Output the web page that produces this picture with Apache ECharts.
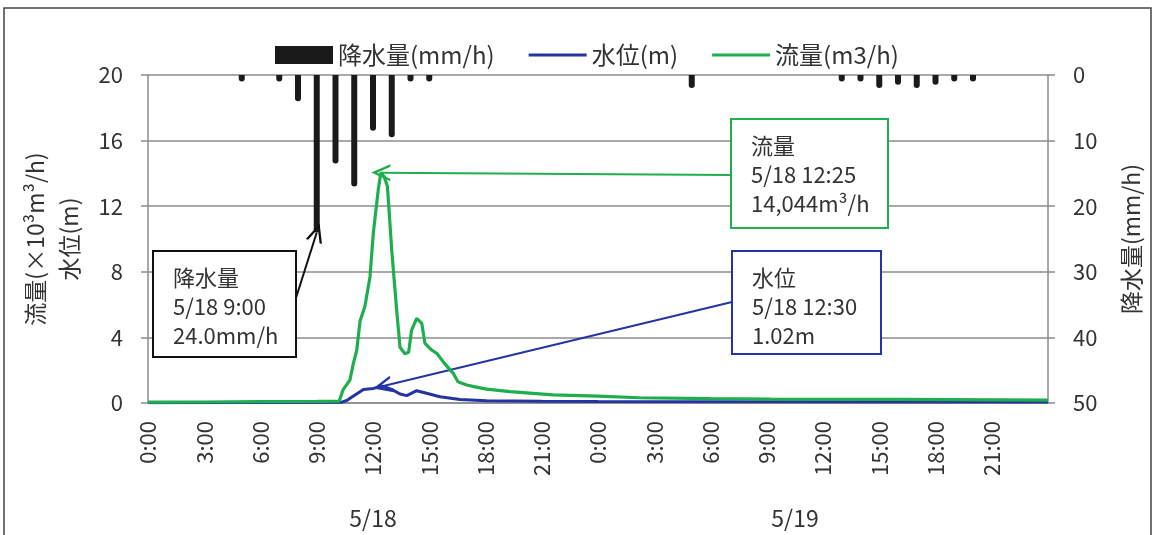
<!DOCTYPE html>
<html>
<head>
<meta charset="utf-8">
<script src="https://cdn.jsdelivr.net/npm/echarts@6/dist/echarts.min.js"></script>
<style>
  html, body { margin: 0; padding: 0; background: #fff; }
  #chart { width: 1153px; height: 535px; }
</style>
</head>
<body>
<div id="chart"></div>
<script>
// Hourly rainfall (hours counted from 5/18 0:00), mm/h
const rainHours  = [5, 7, 8, 9, 10, 11, 12, 13, 14, 15, 29, 37, 38, 39, 40, 41, 42, 43, 44];
const rainValues = [1, 1, 4.0, 24.0, 13.5, 17.0, 8.5, 9.5, 1, 1, 2.0, 1, 1, 2.0, 1.5, 2.0, 1.5, 1, 1];

// Discharge (×10³ m³/h): [hour, value]
const flowPoints = [
  [0, 0.05], [3, 0.06], [6, 0.08], [9, 0.1], [10.2, 0.12], [10.4, 0.8], [10.77, 1.4],
  [10.95, 2.4], [11.13, 3.2], [11.31, 5.0], [11.57, 5.9], [11.84, 7.7], [12.02, 10.4],
  [12.28, 13.0], [12.4167, 14.044], [12.6, 13.8], [12.77, 13.2], [13.0, 9.3], [13.26, 5.7],
  [13.44, 3.4], [13.7, 3.0], [13.9, 3.1], [14.06, 4.45], [14.33, 5.16], [14.6, 4.86],
  [14.77, 3.64], [15.13, 3.23], [15.4, 3.03], [15.8, 2.43], [16.28, 1.81], [16.53, 1.3],
  [17.0, 1.1], [17.44, 0.98], [18.06, 0.85], [19.3, 0.69], [21.6, 0.49], [24, 0.42],
  [26.2, 0.32], [30, 0.27], [33.2, 0.24], [40, 0.22], [48, 0.18]
];

// Water level (m): [hour, value]
const levelPoints = [
  [0, 0.02], [6, 0.03], [10.3, 0.04], [10.6, 0.15], [11.04, 0.49], [11.49, 0.83],
  [12.02, 0.89], [12.5, 1.02], [13.0, 0.83], [13.44, 0.55], [13.8, 0.45], [14.33, 0.75],
  [14.86, 0.59], [15.57, 0.38], [16.64, 0.22], [18.06, 0.14], [21, 0.1], [24, 0.09],
  [36, 0.07], [48, 0.06]
];

// Annotated peaks
const rainPeak  = [9, 24.0];
const flowPeak  = [12.4167, 14.044];
const levelPeak = [12.5, 1.02];

const dayLabels = ['5/18', '5/19'];
const legendNames = ['降水量(mm/h)', '水位(m)', '流量(m3/h)'];

const FONT = "'Noto Sans CJK JP', 'Noto Sans', sans-serif";
const TEXT = '#333';
const GRAY = '#8c8c8c';
const GREEN = '#1fae4e';
const BLUE = '#2434a3';

const rainData = rainHours.map((h, i) => [h, rainValues[i]]);

const chart = echarts.init(document.getElementById('chart'), null, { renderer: 'canvas' });

// Open V arrow head, pointing up in its own frame
const ARROW = 'path://M0,12 L5,0 L10,12 L8.5,12 L5,3.6 L1.5,12 Z';
// Thin legend stroke: tiny corner specks keep the full icon box so the bar stays thin
const LEGEND_LINE = 'path://M0,0 L0.05,0 L0,0.05 Z M0,7.5 L58,7.5 L58,10.5 L0,10.5 Z M58,18 L57.95,18 L58,17.95 Z';

function box(x, y, w, h, color, lines) {
  return {
    type: 'group',
    children: [
      { type: 'rect', shape: { x: x, y: y, width: w, height: h },
        style: { fill: '#fff', stroke: color, lineWidth: 2 }, z: 50 },
      { type: 'text', x: x + 20, y: y + 12, z: 51,
        style: { text: lines.join('\n'), fontSize: 22, lineHeight: 29,
                 fontFamily: FONT, fill: TEXT } }
    ]
  };
}

const option = {
  animation: false,
  backgroundColor: '#fff',
  textStyle: { fontFamily: FONT, color: TEXT },
  grid: { left: 148, right: 105, top: 75, bottom: 132 },
  legend: {
    top: 38, left: 270,
    itemWidth: 58, itemHeight: 18, itemGap: 34,
    textStyle: { fontSize: 24, color: TEXT, fontFamily: FONT },
    data: [
      { name: legendNames[0], icon: 'rect' },
      { name: legendNames[1], icon: LEGEND_LINE },
      { name: legendNames[2], icon: LEGEND_LINE }
    ]
  },
  xAxis: {
    type: 'value', min: 0, max: 48, interval: 3,
    axisLine: { show: true, onZero: false, lineStyle: { color: GRAY, width: 1.5 } },
    axisTick: { show: false },
    splitLine: { show: false },
    axisLabel: {
      rotate: 90, margin: 18, fontSize: 22, color: TEXT, fontFamily: FONT,
      formatter: v => (v >= 48 ? '' : (v % 24) + ':00')
    }
  },
  yAxis: [
    {
      type: 'value', min: 0, max: 20, interval: 4, position: 'left',
      name: '流量(×10³m³/h)\n水位(m)', nameLocation: 'middle', nameRotate: 90, nameGap: 62,
      nameTextStyle: { fontSize: 23, color: TEXT, fontFamily: FONT, lineHeight: 34 },
      axisLine: { show: true, lineStyle: { color: GRAY, width: 1.5 } },
      axisTick: { show: true, inside: false, length: 7, lineStyle: { color: GRAY, width: 1.5 } },
      splitLine: { show: true, lineStyle: { color: GRAY, width: 1.5 } },
      axisLabel: { fontSize: 22, margin: 25, color: TEXT, fontFamily: FONT }
    },
    {
      type: 'value', min: 0, max: 50, interval: 10, inverse: true, position: 'right',
      name: '降水量(mm/h)', nameLocation: 'middle', nameRotate: 90, nameGap: 72,
      nameTextStyle: { fontSize: 23, color: TEXT, fontFamily: FONT },
      axisLine: { show: true, lineStyle: { color: GRAY, width: 1.5 } },
      axisTick: { show: true, inside: false, length: 7, lineStyle: { color: GRAY, width: 1.5 } },
      splitLine: { show: false },
      axisLabel: { fontSize: 22, margin: 25, color: TEXT, fontFamily: FONT }
    }
  ],
  series: [
    {
      name: legendNames[0], type: 'bar', yAxisIndex: 1, data: rainData,
      barWidth: 6, itemStyle: { color: '#1a1a1a', borderRadius: [0, 0, 3, 3] }, z: 3
    },
    {
      name: legendNames[1], type: 'line', yAxisIndex: 0, data: levelPoints,
      showSymbol: false, symbol: 'none', lineStyle: { color: BLUE, width: 3 },
      itemStyle: { color: BLUE }, z: 4
    },
    {
      name: legendNames[2], type: 'line', yAxisIndex: 0, data: flowPoints,
      showSymbol: false, symbol: 'none', lineStyle: { color: GREEN, width: 3.2 },
      itemStyle: { color: GREEN }, z: 5
    }
  ],
  graphic: [
    // outer frame
    { type: 'polyline', shape: { points: [[4, 540], [4, 8], [1151, 8], [1151, 540]] },
      style: { stroke: '#444', lineWidth: 1.5, fill: null }, z: 0 },
    { type: 'text', x: 373, y: 518, style: { text: dayLabels[0], fontSize: 23, fontFamily: FONT,
      fill: TEXT, align: 'center', verticalAlign: 'middle' } },
    { type: 'text', x: 795, y: 518, style: { text: dayLabels[1], fontSize: 23, fontFamily: FONT,
      fill: TEXT, align: 'center', verticalAlign: 'middle' } },
    box(153, 251, 143, 106, '#111', ['降水量', '5/18 9:00', rainPeak[1].toFixed(1) + 'mm/h']),
    box(731, 119, 157, 109, GREEN, ['流量', '5/18 12:25', (flowPeak[1] * 1000).toLocaleString('en-US') + 'm³/h']),
    box(732, 251, 149, 103, BLUE, ['水位', '5/18 12:30', levelPeak[1].toFixed(2) + 'm'])
  ]
};

chart.setOption(option);

// Arrows from each note box to the value it describes
function arrow(fromPx, axes, target, color) {
  const start = chart.convertFromPixel(axes, fromPx);
  return {
    silent: true, animation: false,
    symbol: ['none', ARROW], symbolSize: [17, 19],
    label: { show: false },
    lineStyle: { color: color, width: 2, type: 'solid' },
    emphasis: { disabled: true },
    data: [[{ coord: start }, { coord: target }]]
  };
}

chart.setOption({
  series: [
    { name: legendNames[0], markLine: arrow([295, 301], { xAxisIndex: 0, yAxisIndex: 1 }, rainPeak, '#111') },
    { name: legendNames[1], markLine: arrow([732, 302], { xAxisIndex: 0, yAxisIndex: 0 }, levelPeak, BLUE) },
    { name: legendNames[2], markLine: arrow([731, 175], { xAxisIndex: 0, yAxisIndex: 0 }, flowPeak, GREEN) }
  ]
});
</script>
</body>
</html>
